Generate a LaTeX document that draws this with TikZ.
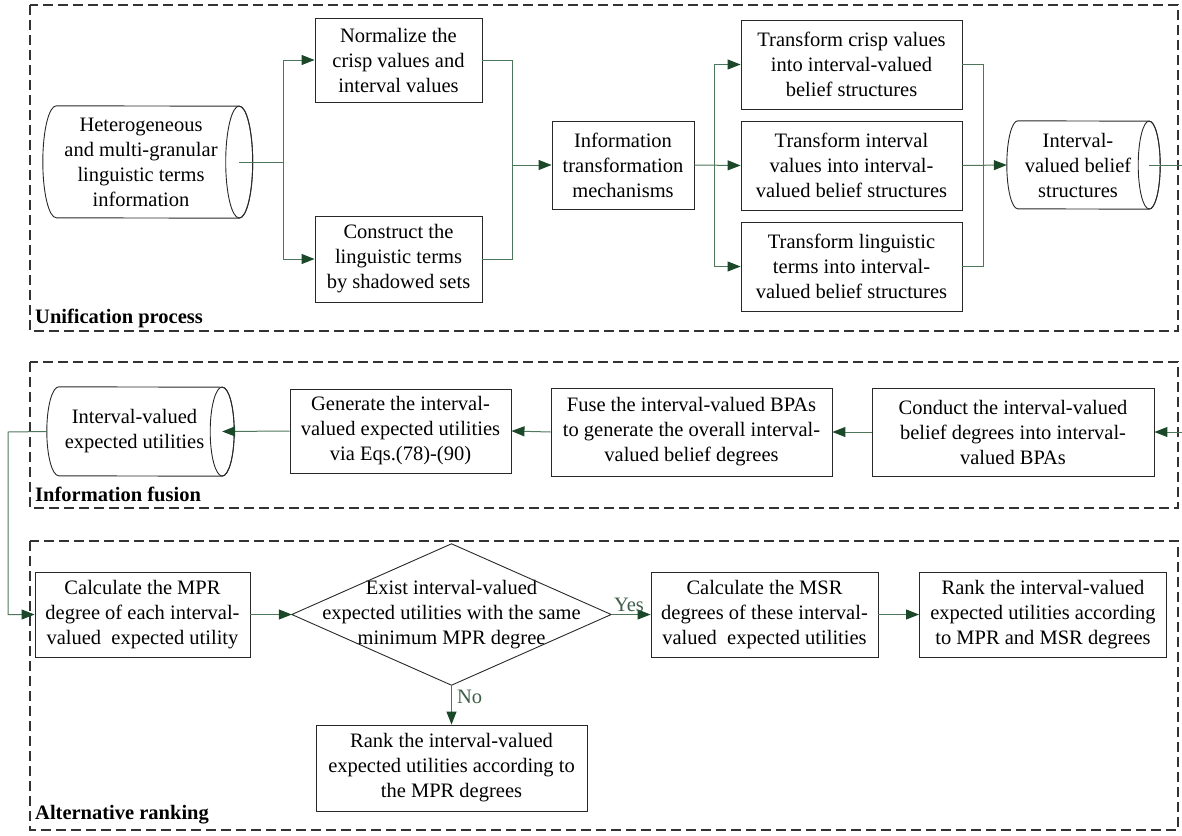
\documentclass[tikz,border=0pt]{standalone}
\usepackage{fontspec}
\setmainfont{Liberation Serif}
\usetikzlibrary{arrows.meta,calc}
\definecolor{linec}{RGB}{78,118,90}
\definecolor{tipc}{RGB}{28,72,42}
\definecolor{boxc}{RGB}{40,40,40}
% cylinder body drawn round a node that spans from the left arc to the centre of the right ellipse
\newcommand\cylshape[3]{%
  \draw[boxline] ([xshift=#2pt]#1.north west) arc[start angle=90,end angle=270,x radius=#2pt,y radius=#3pt]
    -- (#1.south east) arc[start angle=-90,end angle=90,x radius=#2pt,y radius=#3pt] -- cycle;
  \draw[boxline] (#1.east) ellipse[x radius=#2pt,y radius=#3pt];}
\begin{document}
\begin{tikzpicture}[x=1pt,y=-1pt,
  txt/.style={font=\fontsize{20.5}{25}\selectfont, align=center, inner sep=0pt},
  box/.style 2 args={txt, draw=boxc, line width=0.9pt, minimum width=#1, minimum height=#2},
  blank/.style 2 args={txt, minimum width=#1, minimum height=#2},
  boxline/.style={draw=boxc, line width=0.9pt},
  frame/.style={draw=black!80, line width=1.2pt, dash pattern=on 10pt off 5pt},
  conn/.style={draw=linec, line width=1pt},
  arr/.style={conn, -{Triangle[length=13pt,width=10pt,color=tipc]}},
  lab/.style={font=\fontsize{20.5}{24}\selectfont\bfseries, anchor=west, inner sep=0pt},
  yn/.style={font=\fontsize{20.5}{24}\selectfont, text=linec!80!black, inner sep=0pt}]
\useasboundingbox (0,0) rectangle (1182,835);

% frames
\draw[frame] (30,5) rectangle (1178,331);
\draw[frame] (30,362) rectangle (1178,508);
\draw[frame] (30,541) rectangle (1178,830);
\node[lab] (l1) at (35,318) {Unification process};
\node[lab] (l2) at (35,494) {Information fusion};
\node[lab] (l3) at (35,815) {Alternative ranking};

% row 1
\node[blank={196}{112}] (het) at (141,162) {Heterogeneous\\and multi-granular\\linguistic terms\\information};
\cylshape{het}{13.5}{56}
\node[box={167}{84}] (norm) at (398.5,60) {Normalize the\\crisp values and\\interval values};
\node[box={167}{86}] (cons) at (398.5,259) {Construct the\\linguistic terms\\by shadowed sets};
\node[box={142}{88}] (info) at (623,165) {Information\\transformation\\mechanisms};
\node[box={221}{89}] (t1) at (851.5,64.5) {Transform crisp values\\into interval-valued\\belief structures};
\node[box={221}{89}] (t2) at (851.5,165.5) {Transform interval\\values into interval-\\valued belief structures};
\node[box={221}{89}] (t3) at (851.5,266.5) {Transform linguistic\\terms into interval-\\valued belief structures};
\node[blank={142}{88}] (ivb) at (1078,165) {Interval-\\valued belief\\structures};
\cylshape{ivb}{11}{44}
\coordinate (j1) at (283,162);
\coordinate (j2) at (512,165);
\coordinate (j3) at (714,165);
\coordinate (j4) at (983,165);
\coordinate (outA) at (1182,165);
\coordinate (outB) at (1182,432);

\draw[conn] (het.east) -- (j1);
\draw[arr] (j1) |- (norm.west);
\draw[arr] (j1) |- (cons.west);
\draw[conn] (norm.east) -| (j2);
\draw[conn] (cons.east) -| (j2);
\draw[arr] (j2) -- (info.west);
\draw[arr] (info.east) -- (t2.west);
\draw[arr] (j3) |- (t1.west);
\draw[arr] (j3) |- (t3.west);
\draw[conn] (t1.east) -| (j4);
\draw[conn] (t3.east) -| (j4);
\draw[arr] (t2.east) -- (ivb.west);
\draw[conn] (ivb.east) -- (outA);

% row 2
\node[box={282}{88}] (cond) at (1013,432) {Conduct the interval-valued\\belief degrees into interval-\\valued BPAs};
\node[box={281}{88}] (fuse) at (691.5,432) {Fuse the interval-valued BPAs\\to generate the overall interval-\\valued belief degrees};
\node[box={221}{84}] (gen) at (400.5,431) {Generate the interval-\\valued expected utilities\\via Eqs.(78)-(90)};
\node[blank={175}{89}] (ieu) at (134.5,431.5) {Interval-valued\\expected utilities};
\cylshape{ieu}{12}{44.5}
\draw[arr] (outB) -- (cond.east);
\draw[arr] (cond.west) -- (fuse.east);
\draw[arr] (fuse.west) -- (gen.east);
\draw[arr] (gen.west) -- (ieu.east);

% row 3
\node[box={215}{85}] (mpr) at (142.5,614.5) {Calculate the MPR\\degree of each interval-\\valued\ \ expected utility};
\node[blank={319}{141}] (dia) at (451.5,614.5) {Exist interval-valued\\expected utilities with the same\\minimum MPR degree};
\draw[boxline] (dia.north) -- (dia.east) -- (dia.south) -- (dia.west) -- cycle;
\node[box={227}{85}] (msr) at (764.5,614.5) {Calculate the MSR\\degrees of these interval-\\valued\ \ expected utilities};
\node[box={247}{85}] (rk1) at (1043,614.5) {Rank the interval-valued\\expected utilities according\\to MPR and MSR degrees};
\node[box={271}{86}] (rk2) at (451.5,768) {Rank the interval-valued\\expected utilities according to\\the MPR degrees};
\coordinate (jl) at (8,432);
\draw[arr] (ieu.west) -- (jl) |- (mpr.west);
\draw[arr] (mpr.east) -- (dia.west);
\draw[arr] (dia.east) -- node[yn, above=2pt, pos=0.45] (yes) {Yes} (msr.west);
\draw[arr] (msr.east) -- (rk1.west);
\draw[arr] (dia.south) -- node[yn, right=5pt, pos=0.3] (no) {No} (rk2.north);
\end{tikzpicture}
\end{document}
